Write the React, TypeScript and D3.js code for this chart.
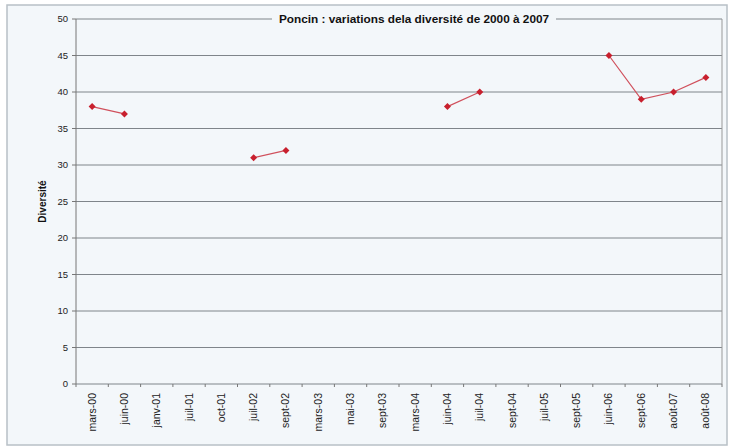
import React from "react";
import * as d3 from "d3";

const categories = [
  "mars-00", "juin-00", "janv-01", "juil-01", "oct-01", "juil-02", "sept-02",
  "mars-03", "mai-03", "sept-03", "mars-04", "juin-04", "juil-04", "sept-04",
  "juil-05", "sept-05", "juin-06", "sept-06", "août-07", "août-08",
];
const values: (number | null)[] = [
  38, 37, null, null, null, 31, 32,
  null, null, null, null, 38, 40, null,
  null, null, 45, 39, 40, 42,
];
const yTicks = [0, 5, 10, 15, 20, 25, 30, 35, 40, 45, 50];
const title = "Poncin : variations dela diversité de 2000 à 2007";
const yLabel = "Diversité";

export default function App() {
  const W = 734, H = 447;
  const left = 76, right = 722, top = 19, bottom = 384;
  const x = d3.scaleBand<string>().domain(categories).range([left, right]);
  const y = d3.scaleLinear().domain([0, 50]).range([bottom, top]);
  const cx = (c: string) => (x(c) ?? 0) + x.bandwidth() / 2;
  const pts = categories.map((c, i) => ({ c, v: values[i] }));
  const line = d3
    .line<{ c: string; v: number | null }>()
    .defined((d) => d.v !== null)
    .x((d) => cx(d.c))
    .y((d) => y(d.v as number));
  const font = "Liberation Sans, Arial, sans-serif";
  return (
    <svg width={W} height={H} style={{ position: "absolute", left: 0, top: 0, background: "#fff" }}>
      <rect x={7} y={5} width={720} height={440} fill="#f3f7fa" stroke="#b8c0c6" strokeWidth={1.5} />
      {yTicks.map((t) => (
        <g key={t}>
          <line x1={left} x2={right} y1={y(t)} y2={y(t)} stroke="#7f858a" strokeWidth={1} />
          <line x1={left - 4} x2={left} y1={y(t)} y2={y(t)} stroke="#777" />
          <text x={left - 8} y={y(t)} dy="0.35em" textAnchor="end" fontSize={9.5} fontFamily={font} fill="#222">
            {t}
          </text>
        </g>
      ))}
      <line x1={left} x2={left} y1={top} y2={bottom} stroke="#777" />
      <line x1={right} x2={right} y1={top} y2={bottom} stroke="#999" />
      {categories.map((c, i) => (
        <line key={"t" + i} x1={x(c)} x2={x(c)} y1={bottom} y2={bottom + 3} stroke="#777" />
      ))}
      <line x1={right} x2={right} y1={bottom} y2={bottom + 3} stroke="#777" />
      {categories.map((c) => (
        <text
          key={c}
          transform={`translate(${cx(c) + 3.5},${bottom + 9}) rotate(-90)`}
          textAnchor="end"
          fontSize={10.5}
          fontFamily={font}
          fill="#222"
        >
          {c}
        </text>
      ))}
      <rect x={272} y={12} width={284} height={15} fill="#f3f7fa" />
      <text x={414} y={23} textAnchor="middle" fontSize={11.8} fontWeight="bold" fontFamily={font} fill="#111">
        {title}
      </text>
      <text
        transform={`translate(46,${(top + bottom) / 2}) rotate(-90)`}
        textAnchor="middle"
        fontSize={10}
        fontWeight="bold"
        fontFamily={font}
        fill="#111"
      >
        {yLabel}
      </text>
      <path d={line(pts) ?? ""} fill="none" stroke="#d0505c" strokeWidth={1.2} />
      {pts
        .filter((d) => d.v !== null)
        .map((d) => (
          <path
            key={"m" + d.c}
            d="M0,-3.5L3.5,0L0,3.5L-3.5,0Z"
            transform={`translate(${cx(d.c)},${y(d.v as number)})`}
            fill="#c8202e"
          />
        ))}
    </svg>
  );
}
